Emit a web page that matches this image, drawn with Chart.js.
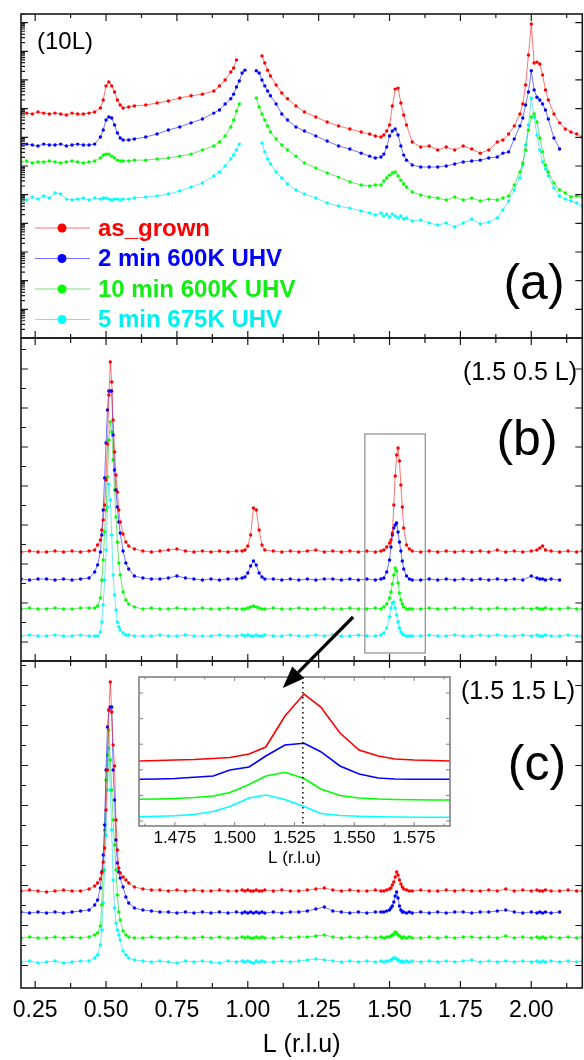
<!DOCTYPE html>
<html>
<head>
<meta charset="utf-8">
<script src="https://cdn.jsdelivr.net/npm/chart.js@4.4.1/dist/chart.umd.min.js"></script>
<style>
  body { margin: 0; background: #fff; }
  #wrap { position: relative; width: 584px; height: 1060px; overflow: hidden; background: #fff; }
  #wrap canvas { position: absolute; }
</style>
</head>
<body>
<div id="wrap">
  <canvas id="panelA" width="584" height="340" style="left:0px;top:0px"></canvas>
  <canvas id="panelB" width="584" height="327" style="left:0px;top:336px"></canvas>
  <canvas id="panelC" width="584" height="401" style="left:0px;top:659px"></canvas>
  <canvas id="inset" width="340" height="265" style="left:130px;top:605px"></canvas>
</div>
<script>
// SERIES
const seriesNames = ['as_grown', '2 min 600K UHV', '10 min 600K UHV', '5 min 675K UHV'];

// X TICKS (r.l.u)
const xTicks = [0.25, 0.50, 0.75, 1.00, 1.25, 1.50, 1.75, 2.00];
const xMinor = [0.375, 0.625, 0.875, 1.125, 1.375, 1.625, 1.875, 2.125];
const insetTicks = [1.475, 1.500, 1.525, 1.550, 1.575];
const insetMinor = [1.4625, 1.4875, 1.5125, 1.5375, 1.5625, 1.5875];

// panel (a) (1 0 L), log intensity
const aL = [
  0.20,0.22,0.24,0.26,0.28,0.30,0.32,0.34,0.36,0.38,0.40,0.42,0.44,0.46,
  0.48,0.49,0.50,0.51,0.52,0.53,0.54,0.55,0.56,
  0.58,0.60,
  0.64,0.68,0.72,0.76,0.80,0.84,0.88,
  0.90,0.92,0.94,
  0.95,0.96,0.97,0.98,0.99,1.00,1.01,1.02,1.03,1.04,1.05,1.06,1.07,1.08,
  1.10,1.12,1.14,
  1.17,1.20,1.24,1.28,1.32,1.36,1.40,1.43,1.45,1.47,
  1.48,1.49,1.50,1.51,1.52,1.53,1.54,1.55,1.56,
  1.58,1.61,1.64,1.67,1.70,1.73,1.76,1.79,1.82,1.85,1.88,
  1.90,1.92,1.94,1.96,
  1.97,1.98,1.99,2.00,2.01,2.02,2.03,2.04,2.05,2.06,
  2.08,2.10,2.12,2.14,2.16,2.18
];
const aRed = [
  7.0e7,7.0e7,6.5e7,7.6e7,7.0e7,6.5e7,7.0e7,6.5e7,6.0e7,7.0e7,6.5e7,6.5e7,7.0e7,7.6e7,
  1.05e8,2.0e8,6.2e8,8.5e8,6.2e8,3.8e8,2.0e8,1.34e8,1.05e8,
  1.14e8,1.24e8,
  1.34e8,1.57e8,1.85e8,2.35e8,2.8e8,3.2e8,4.1e8,
  6.2e8,1.0e9,1.9e9,
  2.6e9,5.0e9,null,null,null,null,null,null,null,null,6.9e9,3.9e9,2.2e9,1.37e9,
  6.7e8,3.5e8,2.2e8,
  1.24e8,7.6e7,5.1e7,3.4e7,2.5e7,1.95e7,1.53e7,1.3e7,1.11e7,1.03e7,
  1.2e7,1.66e7,2.7e7,1.24e8,4.8e8,5.2e8,1.57e8,6.0e7,2.7e7,
  6.9e6,4.6e6,5.0e6,3.6e6,4.6e6,3.6e6,5.0e6,3.9e6,2.8e6,3.6e6,6.9e6,
  8.1e6,1.3e7,2.5e7,6.5e7,
  1.45e8,6.7e8,7.4e9,9.0e10,3.9e9,4.2e9,3.6e9,1.5e9,4.5e8,2.0e8,
  6.5e7,3.2e7,1.95e7,1.53e7,1.3e7,1.03e7
];
const aBlue = [
  5.4e6,5.8e6,5.4e6,5.0e6,5.8e6,5.4e6,5.4e6,5.8e6,5.0e6,5.4e6,5.8e6,5.4e6,5.4e6,5.8e6,
  1.03e7,1.8e7,4.0e7,5.1e7,4.7e7,2.7e7,1.41e7,9.5e6,8.1e6,
  8.1e6,8.7e6,
  1.03e7,1.3e7,1.8e7,2.3e7,3.2e7,4.35e7,7.0e7,
  9.0e7,1.45e8,2.2e8,
  3.2e8,5.7e8,9.2e8,1.75e9,2.2e9,null,null,null,2.1e9,1.75e9,1.0e9,6.2e8,4.1e8,2.8e8,
  1.45e8,6.5e7,4.0e7,
  2.3e7,1.66e7,1.11e7,7.4e6,5.0e6,3.9e6,2.8e6,2.2e6,1.9e6,2.06e6,
  2.6e6,4.6e6,1.11e7,1.66e7,1.95e7,1.2e7,5.0e6,2.4e6,1.6e6,
  1.08e6,9.2e5,9.2e5,9.2e5,1.0e6,1.17e6,1.38e6,1.5e6,1.6e6,1.9e6,2.06e6,
  2.8e6,3.1e6,8.7e6,2.5e7,
  4.7e7,1.34e8,3.8e8,2.1e9,4.5e8,2.5e8,2.0e8,1.45e8,9.0e7,4.35e7,
  9.5e6,3.9e6,null,null,null,null
];
const aGreen = [
  1.38e6,1.5e6,1.27e6,1.38e6,1.38e6,1.5e6,1.38e6,1.27e6,1.38e6,1.5e6,1.38e6,1.27e6,1.38e6,1.5e6,
  1.9e6,2.4e6,2.6e6,2.6e6,2.2e6,1.9e6,1.6e6,1.5e6,1.5e6,
  1.5e6,1.6e6,
  1.6e6,1.75e6,1.9e6,2.2e6,2.6e6,3.6e6,5.0e6,
  6.9e6,1.11e7,2.3e7,
  4.0e7,8.3e7,1.45e8,null,null,null,null,null,2.35e8,1.14e8,6.5e7,4.0e7,2.5e7,1.53e7,
  8.7e6,5.4e6,3.6e6,
  2.2e6,1.27e6,8.5e5,5.7e5,4.1e5,2.8e5,2.17e5,2.0e5,2.17e5,2.17e5,
  3.0e5,3.8e5,4.8e5,5.7e5,6.2e5,4.5e5,3.2e5,2.35e5,1.85e5,
  1.24e5,9.7e4,8.3e4,7.6e4,6.5e4,8.3e4,6.5e4,7.6e4,6.0e4,7.0e4,6.5e4,
  7.6e4,9.0e4,2.17e5,6.2e5,
  1.27e6,3.6e6,1.8e7,5.1e7,6.5e7,3.4e7,9.5e6,3.1e6,1.08e6,6.2e5,
  2.55e5,1.45e5,1.14e5,8.3e4,9.0e4,8.3e4
];
const aCyan = [
  7.6e4,6.5e4,8.3e4,7.0e4,9.0e4,7.6e4,1.14e5,1.05e5,7.0e4,6.5e4,7.0e4,7.6e4,6.5e4,7.6e4,
  7.0e4,7.6e4,7.6e4,7.0e4,6.5e4,7.0e4,7.0e4,6.5e4,7.0e4,
  7.0e4,7.6e4,
  8.3e4,9.0e4,1.05e5,1.34e5,1.85e5,2.55e5,4.5e5,
  6.2e5,1.0e6,1.75e6,
  2.4e6,3.6e6,5.8e6,null,null,null,null,null,null,null,6.3e6,3.1e6,1.75e6,1.17e6,
  6.2e5,3.8e5,2.35e5,
  1.45e5,1.05e5,7.6e4,5.1e4,4.0e4,3.4e4,2.7e4,2.3e4,1.95e4,2.3e4,
  1.8e4,2.1e4,1.66e4,2.1e4,1.8e4,1.53e4,1.8e4,1.42e4,1.53e4,
  1.2e4,1.3e4,1.03e4,8.7e3,1.03e4,7.4e3,1.03e4,1.42e4,9.5e3,1.1e4,1.53e4,
  2.9e4,6.0e4,1.45e5,3.8e5,
  1.08e6,5.4e6,2.7e7,2.35e8,5.1e7,1.2e7,3.6e6,1.38e6,7.8e5,4.5e5,
  1.7e5,9.0e4,7.0e4,6.0e4,5.1e4,4.0e4
];

// panels (b) (1.5 0.5 L) and (c) (1.5 1.5 L), offset linear intensity
const bcL = [
  0.20,0.23,0.26,0.29,0.32,0.35,0.38,0.41,0.44,
  0.46,0.47,0.48,0.485,0.49,0.495,0.50,0.505,0.51,0.515,0.52,0.525,0.53,0.535,0.54,0.545,0.55,0.56,0.57,0.58,0.60,
  0.63,0.66,0.69,0.72,0.75,0.78,0.81,0.84,0.87,0.90,0.93,0.96,0.98,
  0.99,1.00,1.01,1.02,1.03,1.04,1.05,1.06,
  1.09,1.12,1.15,1.18,1.21,1.24,1.27,1.30,1.33,1.36,1.39,1.42,1.45,1.47,
  1.48,1.49,1.50,1.505,1.51,1.515,1.52,1.525,1.53,1.535,1.54,1.545,1.55,1.56,1.57,1.58,
  1.61,1.64,1.67,1.70,1.73,1.76,1.79,1.82,1.85,1.88,1.91,1.94,1.97,
  2.00,2.02,2.03,2.04,2.05,2.07,
  2.10,2.13,2.16,2.18
];
const bRed = [
  109,110,109,109,110,109,110,109,110,
  111,116,121,131,141,156,181,217,266,299,279,241,209,186,169,151,139,127,119,115,112,
  110,109,110,111,112,110,109,110,109,110,109,110,110,
  111,115,126,153,151,131,116,111,
  110,109,110,109,110,111,109,110,109,110,109,110,109,110,
  111,114,118,121,128,156,185,206,213,200,176,154,133,116,112,110,
  109,110,109,110,109,110,109,110,109,111,109,110,109,
  110,111,113,115,111,110,
  109,110,109,110
];
const bBlue = [
  82,81,82,82,81,82,81,82,83,
  89,96,109,126,151,183,218,251,270,270,270,226,191,171,154,139,128,110,98,92,85,
  83,82,82,83,85,83,82,81,82,81,82,82,83,
  84,88,95,100,96,88,84,82,
  82,81,82,81,82,81,82,82,81,82,81,82,81,82,
  83,89,101,114,126,133,136,138,129,119,110,100,92,85,82,81,
  81,82,81,82,81,82,81,82,81,82,81,82,81,
  85,83,82,82,81,82,
  81,null,null,null
];
const bGreen = [
  52,53,52,52,53,52,52,53,53,
  53,55,63,81,101,129,151,184,221,239,229,201,171,144,119,98,86,69,61,57,54,
  52,53,52,52,53,52,52,53,52,52,53,52,52,
  52,53,54,55,54,53,52,52,
  53,52,52,53,52,52,53,52,52,53,52,52,53,52,
  54,57,63,69,77,86,93,90,78,68,61,57,54,52,52,52,
  52,53,52,52,53,52,53,52,52,53,52,52,53,
  52,53,52,52,53,52,
  52,53,52,52
];
const bCyan = [
  25,26,25,25,26,25,25,26,25,
  25,25,29,39,56,81,111,154,177,161,126,86,66,51,39,34,31,28,26,26,25,
  25,25,26,25,25,26,25,25,25,26,25,25,26,
  25,26,25,25,26,25,25,26,
  25,25,26,25,25,26,25,26,25,25,26,25,25,26,
  28,33,44,53,58,59,53,46,39,33,29,27,26,25,25,25,
  25,26,25,25,26,25,25,26,25,26,25,25,26,
  25,26,25,25,26,25,
  25,26,25,25
];
const cRed = [
  97,98,97,96,97,98,97,97,99,
  102,105,109,115,126,140,178,218,278,306,276,243,222,168,138,120,115,111,108,105,101,
  99,98,98,97,98,97,98,97,97,98,97,97,98,
  97,98,97,97,98,97,97,98,
  97,98,97,97,98,99,100,98,97,98,97,97,98,97,
  97,98,99,100,103,106,111,116,113,108,104,101,99,98,97,97,
  98,97,97,98,97,98,97,97,98,97,99,97,98,
  97,98,97,97,98,97,
  97,98,97,97
];
const cBlue = [
  76,75,76,75,76,75,76,77,78,
  83,88,100,116,133,163,218,261,278,281,281,218,188,148,125,116,110,101,91,85,80,
  78,77,76,76,75,76,75,76,75,76,75,76,75,
  76,75,76,75,76,75,76,75,
  76,75,76,76,77,79,81,77,76,75,76,75,76,76,
  76,77,78,80,82,86,92,96,90,82,78,76,76,75,76,75,
  76,75,76,75,76,76,75,76,76,77,78,76,75,
  76,75,76,75,76,75,
  76,null,null,null
];
const cGreen = [
  50,51,50,50,51,50,51,50,51,
  53,55,62,83,118,158,208,233,258,228,198,168,143,118,93,76,68,57,53,51,50,
  50,51,50,50,51,50,50,51,50,51,50,50,51,
  50,51,50,50,51,50,51,50,
  50,51,50,51,51,52,53,51,50,51,50,51,50,51,
  50,51,51,52,53,54,56,55,53,52,51,50,51,50,51,50,
  50,51,50,51,50,51,51,50,51,50,52,50,51,
  50,51,50,51,50,51,
  50,51,50,51
];
const cCyan = [
  26,27,25,26,27,25,26,27,27,
  30,33,43,58,85,118,153,198,240,198,158,108,80,65,58,53,48,37,33,30,28,
  27,26,27,26,25,27,26,27,26,25,27,26,27,
  26,27,26,25,27,26,27,26,
  26,27,26,27,28,29,28,27,26,27,26,27,26,27,
  26,27,27,28,29,30,30,29,28,27,26,27,26,27,26,27,
  26,27,26,27,26,27,28,26,27,26,27,26,27,
  26,27,26,27,26,27,
  26,27,26,27
];

// inset: zoom of the (1.5 1.5 L) peak
const insetL = [1.460,1.468,1.475,1.483,1.491,1.498,1.506,1.513,1.521,1.529,1.536,1.544,1.552,1.560,1.567,1.575,1.583,1.590];
const insetRed = [65,65.5,66,66.5,67.5,68.5,72,79,110,132,119,93,76,70,67,66,65.5,65];
const insetBlue = [46.7,47,47.5,48.7,50,56,59,70,81,82.7,74.3,60,52,48,47,46.7,46.7,46.7];
const insetGreen = [26.7,27,27.5,28.5,30,33.5,41.5,50,53.7,47.5,37,30.5,28,27,26.5,26.2,26,26];
const insetCyan = [9.3,9.7,10.2,11.5,14.5,19.5,28,31,26.5,19.5,12.5,10.5,9.7,9.3,9,8.8,8.7,8.7];
const insetMarkL = 1.5285;

// zoom box drawn in panel (b), and arrow into the inset
const boxL = [1.413, 1.626];
const boxV = [8, 227];

const family = "'Liberation Sans', Arial, Helvetica, sans-serif";
const pointColors = ['#ff0000', '#0000ff', '#00ff00', '#00ffff'];
const lineColors = ['rgba(255,0,0,0.55)', 'rgba(0,0,255,0.55)', 'rgba(0,200,0,0.55)', 'rgba(0,210,230,0.55)'];
const textColors = ['#ff0000', '#0000ff', '#11ee11', '#00f0f0'];

const xMin = 0.2, xMax = 2.18;

function dotSets(xs, series) {
    return series.map((ys, i) => ({
        label: seriesNames[i],
        data: xs.map((x, j) => ({x: x, y: ys[j]})),
        borderColor: lineColors[i],
        backgroundColor: pointColors[i],
        pointBackgroundColor: pointColors[i],
        borderWidth: 1,
        pointRadius: 1.7,
        pointBorderWidth: 0,
        pointHoverRadius: 0,
        spanGaps: false,
        tension: 0
    }));
}

// frame + inward ticks on all four sides
function frameTicks(cfg) {
    return {
        id: 'frameTicks',
        afterDraw(chart) {
            const ctx = chart.ctx, a = chart.chartArea;
            const sx = chart.scales.x, sy = chart.scales.y;
            ctx.save();
            ctx.strokeStyle = cfg.color;
            ctx.lineWidth = cfg.width;
            ctx.strokeRect(a.left, a.top, a.right - a.left, a.bottom - a.top);
            ctx.lineWidth = cfg.tickWidth;
            ctx.beginPath();
            const xt = (vals, len) => vals.forEach(v => {
                const px = sx.getPixelForValue(v);
                ctx.moveTo(px, a.top); ctx.lineTo(px, a.top + len);
                ctx.moveTo(px, a.bottom); ctx.lineTo(px, a.bottom - len);
            });
            const yt = (vals, len, right) => vals.forEach(v => {
                const py = sy.getPixelForValue(v);
                if (py < a.top || py > a.bottom) return;
                ctx.moveTo(a.left, py); ctx.lineTo(a.left + len, py);
                if (right) { ctx.moveTo(a.right, py); ctx.lineTo(a.right - len, py); }
            });
            xt(cfg.xMajor, cfg.major);
            xt(cfg.xMinor, cfg.minor);
            yt(cfg.yMajor, cfg.major, true);
            yt(cfg.yMinor, cfg.minor, false);
            ctx.stroke();
            ctx.restore();
        }
    };
}

// free text on a panel (positions in page pixels)
function notes(items, top) {
    return {
        id: 'notes',
        afterDraw(chart) {
            const ctx = chart.ctx;
            ctx.save();
            ctx.fillStyle = '#000';
            ctx.textBaseline = 'middle';
            items.forEach(t => {
                ctx.font = t.font;
                ctx.textAlign = t.align;
                ctx.fillText(t.text, t.x, t.y - top);
            });
            ctx.restore();
        }
    };
}

const inlineLegend = {
    id: 'inlineLegend',
    afterDraw(chart) {
        const ctx = chart.ctx;
        ctx.save();
        ctx.font = 'bold 24px ' + family;
        ctx.textBaseline = 'middle';
        ctx.textAlign = 'left';
        chart.data.datasets.forEach((ds, i) => {
            const yy = 228 + i * 30.5;
            ctx.strokeStyle = ds.borderColor;
            ctx.lineWidth = 1.2;
            ctx.beginPath(); ctx.moveTo(35, yy); ctx.lineTo(90, yy); ctx.stroke();
            ctx.fillStyle = ds.pointBackgroundColor;
            ctx.beginPath(); ctx.arc(62, yy, 4.5, 0, 2 * Math.PI); ctx.fill();
            ctx.fillStyle = textColors[i];
            ctx.fillText(ds.label, 98, yy + 1);
        });
        ctx.restore();
    }
};

const zoomBox = {
    id: 'zoomBox',
    afterDraw(chart) {
        const ctx = chart.ctx, sx = chart.scales.x, sy = chart.scales.y;
        const x0 = sx.getPixelForValue(boxL[0]), x1 = sx.getPixelForValue(boxL[1]);
        const y0 = sy.getPixelForValue(boxV[1]), y1 = sy.getPixelForValue(boxV[0]);
        ctx.save();
        ctx.strokeStyle = '#8c8c8c';
        ctx.lineWidth = 1.2;
        ctx.strokeRect(x0, y0, x1 - x0, y1 - y0);
        ctx.restore();
    }
};

const insetMarks = {
    id: 'insetMarks',
    afterDraw(chart) {
        const ctx = chart.ctx, a = chart.chartArea, sx = chart.scales.x, sy = chart.scales.y;
        ctx.save();
        // dotted line at the as_grown peak
        const mx = sx.getPixelForValue(insetMarkL);
        ctx.strokeStyle = '#000';
        ctx.lineWidth = 1.5;
        ctx.setLineDash([1.5, 3.5]);
        ctx.beginPath(); ctx.moveTo(mx, a.top); ctx.lineTo(mx, a.bottom); ctx.stroke();
        ctx.setLineDash([]);
        // arrow from the box in (b)
        const sxp = sx.getPixelForValue(1.5495), syp = sy.getPixelForValue(209);
        const tx = sx.getPixelForValue(1.5201), ty = sy.getPixelForValue(138);
        const ang = Math.atan2(ty - syp, tx - sxp);
        const hl = 22, hw = 8.5;
        const bx = tx - hl * Math.cos(ang), by = ty - hl * Math.sin(ang);
        ctx.strokeStyle = '#000';
        ctx.lineWidth = 3.2;
        ctx.beginPath(); ctx.moveTo(sxp, syp); ctx.lineTo(bx, by); ctx.stroke();
        ctx.fillStyle = '#000';
        ctx.beginPath();
        ctx.moveTo(tx, ty);
        ctx.lineTo(bx + hw * Math.sin(ang), by - hw * Math.cos(ang));
        ctx.lineTo(bx - hw * Math.sin(ang), by + hw * Math.cos(ang));
        ctx.closePath(); ctx.fill();
        ctx.restore();
    }
};

const aDecades = [1e1, 1e2, 1e3, 1e4, 1e5, 1e6, 1e7, 1e8, 1e9, 1e10, 1e11];
const aMinor = [];
[1e0].concat(aDecades).forEach(d => { for (let m = 2; m <= 9; m++) aMinor.push(m * d); });

const baseOptions = (pad, yScale, xScale) => ({
    responsive: false,
    animation: false,
    events: [],
    devicePixelRatio: 1,
    layout: { padding: pad },
    plugins: { legend: { display: false }, tooltip: { enabled: false }, title: { display: false } },
    scales: {
        x: xScale || { type: 'linear', min: xMin, max: xMax, display: false },
        y: yScale
    }
});

window.addEventListener('load', function () {
    panelA();
    panelB();
    panelC();
    insetChart();
});

// PANEL (a)
function panelA() {
    new Chart(document.getElementById('panelA'), {
        type: 'line',
        data: { datasets: dotSets(aL, [aRed, aBlue, aGreen, aCyan]) },
        options: baseOptions({left: 21, right: 1, top: 14, bottom: 2},
            { type: 'logarithmic', min: 1, max: 2e11, display: false }),
        plugins: [
            frameTicks({ color: '#1a1a1a', width: 1.6, tickWidth: 1.2, major: 7, minor: 4,
                xMajor: xTicks, xMinor: xMinor, yMajor: aDecades, yMinor: aMinor }),
            inlineLegend,
            notes([
                { text: '(10L)', x: 37, y: 42, font: '24px ' + family, align: 'left' },
                { text: '(a)', x: 534, y: 285, font: '50px ' + family, align: 'center' }
            ], 0)
        ]
    });
}

// PANEL (b)
function panelB() {
    const yMajor = [19, 58, 97, 136, 175, 214, 253, 292];
    const yMinor = [38.5, 77.5, 116.5, 155.5, 194.5, 233.5, 272.5, 311.5];
    new Chart(document.getElementById('panelB'), {
        type: 'line',
        data: { datasets: dotSets(bcL, [bRed, bBlue, bGreen, bCyan]) },
        options: baseOptions({left: 21, right: 1, top: 2, bottom: 2},
            { type: 'linear', min: 0, max: 323, display: false }),
        plugins: [
            frameTicks({ color: '#1a1a1a', width: 1.6, tickWidth: 1.2, major: 7, minor: 5,
                xMajor: xTicks, xMinor: xMinor, yMajor: yMajor, yMinor: yMinor }),
            zoomBox,
            notes([
                { text: '(1.5 0.5 L)', x: 577, y: 373, font: '25px ' + family, align: 'right' },
                { text: '(b)', x: 527, y: 441, font: '50px ' + family, align: 'center' }
            ], 336)
        ]
    });
}

// PANEL (c)
function panelC() {
    const yMajor = [22.5, 62.5, 102.5, 142.5, 182.5, 222.5, 262.5, 302.5];
    const yMinor = [42.5, 82.5, 122.5, 162.5, 202.5, 242.5, 282.5, 322.5];
    const xScale = {
        type: 'linear', min: xMin, max: xMax,
        afterBuildTicks: s => { s.ticks = xTicks.map(v => ({ value: v })); },
        afterFit: s => { s.height = 72; },
        grid: { display: false, drawTicks: false },
        border: { display: false },
        ticks: {
            color: '#000', padding: 9, maxRotation: 0, autoSkip: false,
            font: { size: 23, family: family },
            callback: v => v.toFixed(2)
        },
        title: {
            display: true, text: 'L (r.l.u)', color: '#000',
            font: { size: 25, family: family }, padding: { top: 0, bottom: 0 }
        }
    };
    new Chart(document.getElementById('panelC'), {
        type: 'line',
        data: { datasets: dotSets(bcL, [cRed, cBlue, cGreen, cCyan]) },
        options: baseOptions({left: 21, right: 1, top: 2, bottom: 0},
            { type: 'linear', min: 0, max: 327, display: false }, xScale),
        plugins: [
            frameTicks({ color: '#1a1a1a', width: 1.6, tickWidth: 1.2, major: 7, minor: 5,
                xMajor: xTicks, xMinor: xMinor, yMajor: yMajor, yMinor: yMinor }),
            notes([
                { text: '(1.5 1.5 L)', x: 575, y: 692, font: '25px ' + family, align: 'right' },
                { text: '(c)', x: 537, y: 766, font: '50px ' + family, align: 'center' }
            ], 659)
        ]
    });
}

// INSET
function insetChart() {
    const yTicks = [5, 30.6, 56.2, 81.8, 107.4, 133];
    const series = [insetRed, insetBlue, insetGreen, insetCyan];
    const xScale = {
        type: 'linear', min: 1.46, max: 1.59,
        afterBuildTicks: s => { s.ticks = insetTicks.map(v => ({ value: v })); },
        afterFit: s => { s.height = 44; },
        grid: { display: false, drawTicks: false },
        border: { display: false },
        ticks: {
            color: '#000', padding: 2, maxRotation: 0, autoSkip: false,
            font: { size: 17, family: family },
            callback: v => v.toFixed(3)
        },
        title: {
            display: true, text: 'L (r.l.u)', color: '#000',
            font: { size: 17, family: family }, padding: { top: 0, bottom: 1 }
        }
    };
    new Chart(document.getElementById('inset'), {
        type: 'line',
        data: {
            datasets: series.map((ys, i) => ({
                label: seriesNames[i],
                data: insetL.map((x, j) => ({ x: x, y: ys[j] })),
                borderColor: pointColors[i],
                borderWidth: 1.6,
                pointRadius: 0,
                tension: 0
            }))
        },
        options: baseOptions({left: 9, right: 20, top: 72, bottom: 0},
            { type: 'linear', min: 0, max: 149, display: false }, xScale),
        plugins: [
            frameTicks({ color: '#808080', width: 1.6, tickWidth: 1, major: 4, minor: 2.5,
                xMajor: insetTicks, xMinor: insetMinor, yMajor: yTicks, yMinor: [] }),
            insetMarks
        ]
    });
}
</script>
</body>
</html>
